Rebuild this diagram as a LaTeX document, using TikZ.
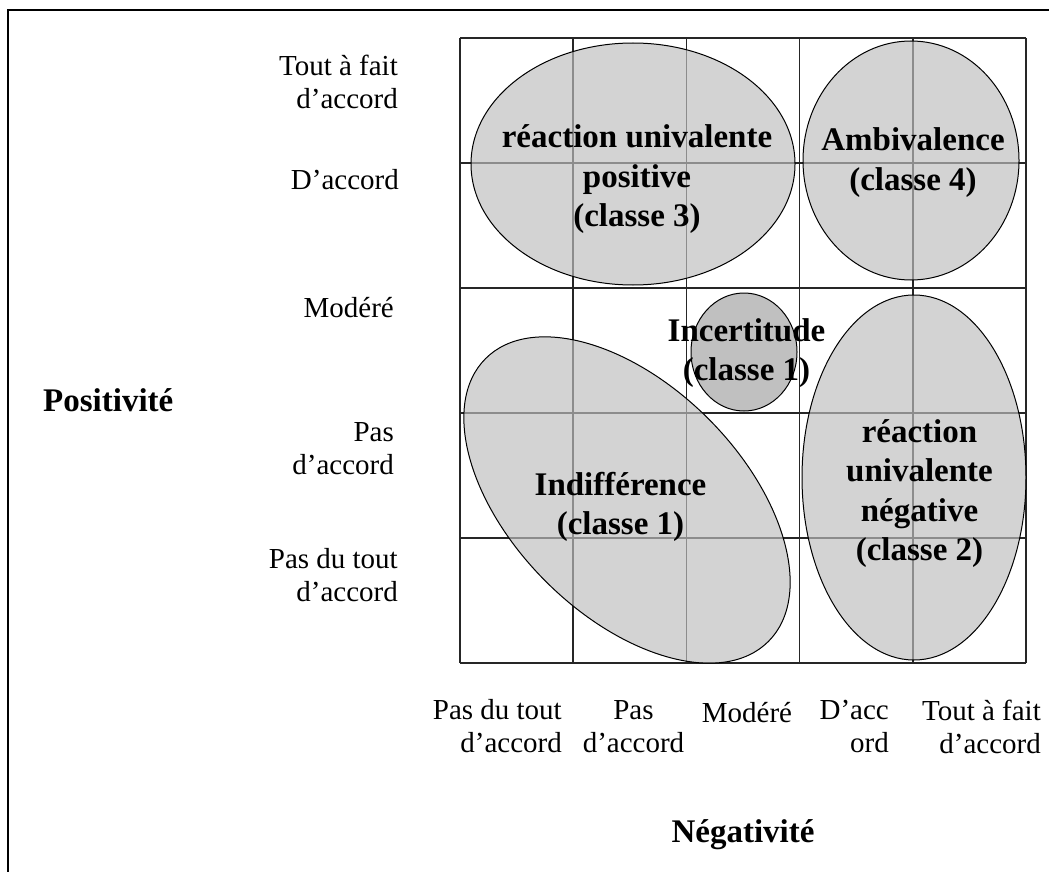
\documentclass[tikz,border=0pt]{standalone}
\usepackage{fontspec}
\setmainfont{Liberation Serif}
\usetikzlibrary{shapes.geometric}
\definecolor{zonegray}{RGB}{190,190,190}
\definecolor{coregray}{RGB}{162,162,162}

\begin{document}
\begin{tikzpicture}[
    x=1pt, y=-1pt,
    gridline/.style={line width=1.6pt, black!85},
    zone/.style={ellipse, draw, line width=1pt, fill=zonegray, fill opacity=0.675, inner sep=0pt},
    core/.style={zone, fill=coregray},
    zonetxt/.style={font=\bfseries\fontsize{33}{39.5}\selectfont, align=center, inner sep=0pt},
    ticklbl/.style={font=\fontsize{29}{33}\selectfont, align=right, inner sep=0pt},
    axislbl/.style={font=\bfseries\fontsize{33}{40}\selectfont, inner sep=0pt}
]
\useasboundingbox (0,0) rectangle (1049,872);

% Frame
\draw[line width=2.5pt] (8,872) -- (8,10) -- (1049,10);

% Grid 5x5
\foreach \i in {0,...,5} {
  \draw[gridline] (460+113.2*\i,38) -- (460+113.2*\i,663);
  \draw[gridline] (460,38+125*\i) -- (1026,38+125*\i);
}

% Zones
\node[zone, minimum width=324pt, minimum height=242pt] (pos) at (633,164) {};
\node[zone, minimum width=216pt, minimum height=239pt] (ambi) at (911,160.5) {};
\node[core, minimum width=106pt, minimum height=118pt] (incert) at (744,352) {};
\node[zone, minimum width=224pt, minimum height=365pt] (neg) at (914,477.5) {};
\node[zone, minimum width=400pt, minimum height=230pt, rotate=-45] (indiff) at (627,500) {};

% Zone texts
\node[zonetxt] (postxt) at (637,179.5) {réaction univalente\\positive\\(classe 3)};
\node[zonetxt] (ambitxt) at (913,162.7) {Ambivalence\\(classe 4)};
\node[zonetxt] (incerttxt) at (746.5,353) {Incertitude\\(classe 1)};
\node[zonetxt] (indifftxt) at (620.5,507) {Indifférence\\(classe 1)};
\node[zonetxt] (negtxt) at (919.5,493.5) {réaction\\univalente\\négative\\(classe 2)};

% Positivity levels
\node[ticklbl, anchor=east] (p5) at (398,82) {Tout à fait\\d’accord};
\node[ticklbl, anchor=base east] (p4) at (399,189) {D’accord};
\node[ticklbl, anchor=base east] (p3) at (394,317) {Modéré};
\node[ticklbl, anchor=east] (p2) at (394,448.5) {Pas\\d’accord};
\node[ticklbl, anchor=east] (p1) at (398,575.5) {Pas du tout\\d’accord};

% Negativity levels
\node[ticklbl, anchor=east] (n1) at (562,726.5) {Pas du tout\\d’accord};
\node[ticklbl, align=center] (n2) at (633.5,727) {Pas\\d’accord};
\node[ticklbl, anchor=base] (n3) at (747,722) {Modéré};
\node[ticklbl, anchor=east] (n4) at (889,726.5) {D’acc\\ord};
\node[ticklbl, anchor=east] (n5) at (1041,726.5) {Tout à fait\\d’accord};

% Axis titles
\node[axislbl, anchor=base west] (posax) at (43,411) {Positivité};
\node[axislbl, anchor=base] (negax) at (743,842) {Négativité};

\end{tikzpicture}
\end{document}
